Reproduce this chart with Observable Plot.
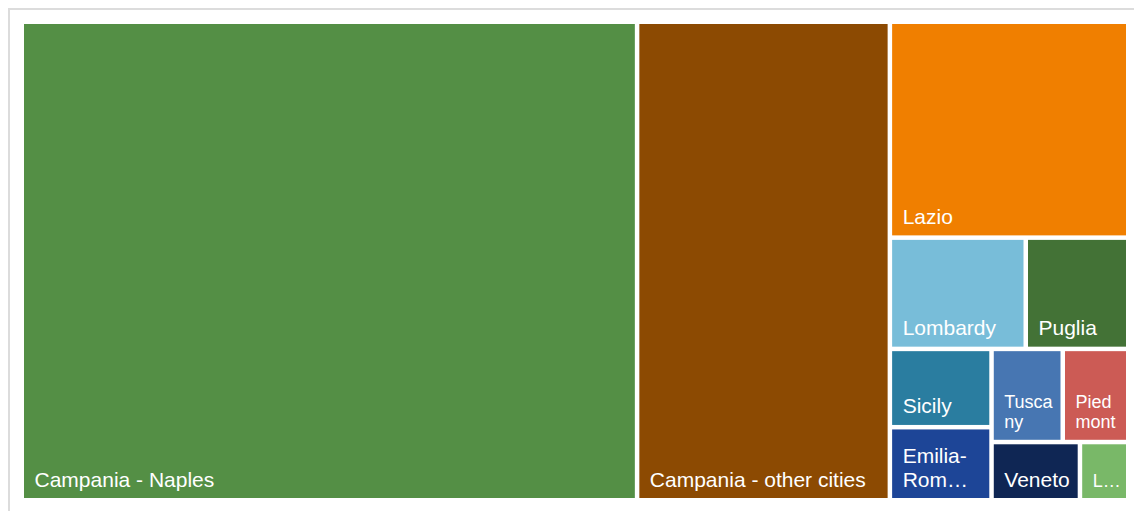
<!DOCTYPE html>
<html>
<head>
<meta charset="utf-8">
<script src="https://cdn.jsdelivr.net/npm/d3@7"></script>
<script src="https://cdn.jsdelivr.net/npm/@observablehq/plot@0.6"></script>
<style>
  html, body { margin: 0; padding: 0; background: #fff; overflow: hidden; }
  #wrap { position: relative; width: 1134px; height: 511px; }
  #frame { position: absolute; left: 8px; top: 8px; width: 1200px; height: 600px;
           border-top: 2px solid #dcdcdc; border-left: 2px solid #dcdcdc; }
  #chart { position: absolute; left: 0; top: 0; }
</style>
</head>
<body>
<div id="wrap"><div id="frame"></div><div id="chart"></div></div>
<script>
// Data (share of total, %)
const regions = ["Campania - Naples", "Campania - other cities", "Lazio", "Lombardy", "Puglia",
                 "Sicily", "Emilia-Romagna", "Tuscany", "Piedmont", "Veneto", "Liguria"];
const values = [55.5, 22.8, 9.7, 2.85, 2.15, 1.5, 1.4, 1.25, 1.15, 0.97, 0.53];
// Labels as displayed in the tiles (wrapped / truncated)
const labels = ["Campania - Naples", "Campania - other cities", "Lazio", "Lombardy", "Puglia",
                "Sicily", "Emilia-\nRom…", "Tusca\nny", "Pied\nmont", "Veneto", "L…"];
const colors = ["#548f45", "#8c4a02", "#f07f00", "#78bdd9", "#437236",
                "#2a7da0", "#1d4597", "#4776b2", "#cc5b55", "#0f2654", "#79b868"];

const W = 1102, H = 474;
const root = d3.hierarchy({children: regions.map((name, i) => ({name, value: values[i], label: labels[i]}))})
  .sum(d => d.value || 0)
  .sort((a, b) => b.value - a.value);
d3.treemap().tile(d3.treemapSquarify.ratio(1)).size([W, H]).paddingInner(4.5).round(false)(root);
const tiles = root.leaves().map(d => ({
  name: d.data.name, label: d.data.label, value: d.data.value,
  x0: d.x0, x1: d.x1, y0: d.y0, y1: d.y1
}));

const chart = Plot.plot({
  width: 1134,
  height: 511,
  marginLeft: 24, marginRight: 8, marginTop: 24, marginBottom: 13,
  x: {domain: [0, W], axis: null},
  y: {domain: [0, H], axis: null, reverse: true},
  color: {domain: regions, range: colors},
  style: {fontFamily: "'Liberation Sans', Arial, sans-serif", background: "transparent"},
  marks: [
    Plot.rect(tiles, {x1: "x0", x2: "x1", y1: "y0", y2: "y1", fill: "name", inset: 0}),
    Plot.text(tiles, {
      x: "x0", y: "y1", text: "label",
      textAnchor: "start", lineAnchor: "bottom",
      dx: 10, dy: -12,
      fill: "white",
      fontSize: d => (d.x1 - d.x0) < 80 ? 18 : 21,
      lineHeight: 1.13
    })
  ]
});
document.getElementById("chart").appendChild(chart);
</script>
</body>
</html>
